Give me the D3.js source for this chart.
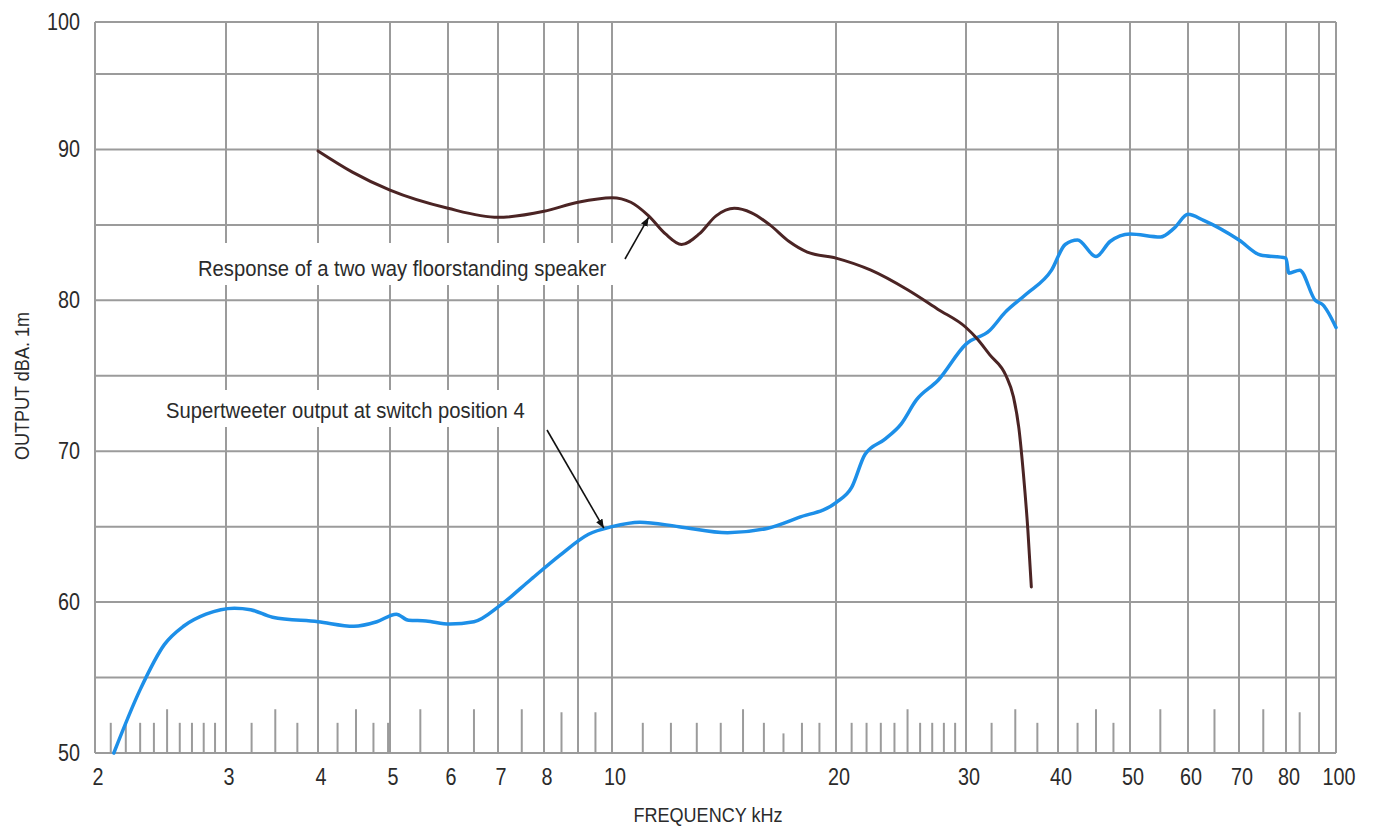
<!DOCTYPE html>
<html>
<head>
<meta charset="utf-8">
<script src="https://cdn.jsdelivr.net/npm/d3@7"></script>
<style>
    body { margin: 0; background: #fff; }
    svg { display: block; }
    text { font-family: "Liberation Sans Narrow", "Arial Narrow", "Liberation Sans", sans-serif; fill: #2b2b2b; }
</style>
</head>
<body>
<svg id="chart" width="1374" height="828"></svg>
<script>
// ---- data ----
// frequencies of the printed vertical grid lines (kHz)
const gridFreqs = [2, 3, 4, 5, 6, 7, 8, 9, 10, 20, 30, 40, 50, 60, 70, 80, 90, 100];
const freqLabels = [2, 3, 4, 5, 6, 7, 8, 10, 20, 30, 40, 50, 60, 70, 80, 100];
const gridLevels = [55, 60, 65, 70, 75, 80, 85, 90, 95];
const levelLabels = [50, 60, 70, 80, 90, 100];

// Response of a two way floorstanding speaker
const speakerFreq = [4, 4.45, 5, 6, 7, 8, 9, 10, 10.6, 11.2, 11.8, 12.4, 13.1, 13.8, 14.6, 15.4, 16.3, 17.3, 18.3, 20, 22.3, 25, 27.5, 30, 31, 32.3, 34, 34.8, 35.4, 35.9, 36.4, 36.8];
const speakerDb   = [89.9, 88.5, 87.3, 86.1, 85.5, 85.9, 86.5, 86.8, 86.5, 85.6, 84.4, 83.7, 84.4, 85.6, 86.1, 85.8, 85.0, 83.9, 83.2, 82.8, 82.0, 80.7, 79.4, 78.2, 77.5, 76.4, 75.0, 73.6, 71.5, 68.5, 64.8, 61.0];

// Supertweeter output at switch position 4
const tweeterFreq = [2.12, 2.3, 2.48, 2.63, 2.82, 3.08, 3.24, 3.47, 4.0, 4.47, 4.8, 5.1, 5.3, 5.6, 6.03, 6.5, 7.05, 7.7, 8.45, 9.3, 10, 10.9, 12.3, 14.3, 16.2, 17.8, 20, 21, 21.9, 23.3, 24.5, 25.7, 27.5, 30, 32.3, 33.9, 36.2, 39.2, 40.9, 42.5, 45, 47, 50, 55, 57.5, 60, 62.9, 70, 74.4, 80, 80.8, 84, 88.8, 92.2, 100];
const tweeterDb   = [50.0, 54.2, 57.2, 58.4, 59.2, 59.6, 59.5, 59.0, 58.7, 58.4, 58.7, 59.2, 58.8, 58.75, 58.55, 58.7, 59.8, 61.5, 63.1, 64.5, 65.0, 65.3, 65.0, 64.6, 64.9, 65.6, 66.6, 67.6, 69.8, 70.8, 71.8, 73.4, 74.7, 77.1, 78.0, 79.2, 80.4, 82.0, 83.7, 84.0, 82.9, 83.9, 84.4, 84.2, 84.8, 85.7, 85.3, 84.0, 83.0, 82.8, 81.8, 82.0, 80.0, 79.7, 78.2];

// short marker strokes along the bottom of the chart
const markerFreq = [2.1, 2.2, 2.3, 2.4, 2.5, 2.6, 2.7, 2.8, 2.9, 3.25, 3.5, 3.75, 4.25, 4.5, 4.75, 4.97, 5.5, 6.5, 7.5, 8.5, 9.5,
    11, 12, 13, 14, 15, 16, 17, 18, 19, 21, 22, 23, 24, 25, 26, 27, 28, 29, 32.5, 35, 37.5, 42.5, 45, 47.5, 50, 55, 65, 75, 84];
const markerDb   = [52.0, 52.0, 52.0, 52.0, 52.9, 52.0, 52.0, 52.0, 52.0, 52.0, 52.9, 52.0, 52.0, 52.9, 52.0, 52.0, 52.9, 52.9, 52.9, 52.7, 52.7,
    52.0, 52.0, 52.0, 52.0, 52.9, 52.0, 51.3, 52.0, 52.0, 52.0, 52.0, 52.0, 52.0, 52.9, 52.0, 52.0, 52.0, 52.0, 52.0, 52.9, 52.0, 52.0, 52.9, 52.0, 52.0, 52.9, 52.9, 52.9, 52.7];

const annotations = [
    { text: "Response of a two way floorstanding speaker", freq: 11.2, db: 85.5, tx: 198, ty: 276, ax: 625, ay: 259, box: [190, 243, 432, 42] },
    { text: "Supertweeter output at switch position 4", freq: 9.75, db: 64.9, tx: 166, ty: 418, ax: 547, ay: 430, box: [158, 390, 382, 37] }
];

///////////////////////////////////////////////////////

const svg = d3.select("#chart");

// the printed frequency scale is not a clean log scale, so map piecewise on the grid lines
const x = d3.scaleLog()
    .domain(gridFreqs)
    .range([95, 226, 318, 390, 448, 498, 544, 578, 612, 836, 966, 1058, 1130, 1188, 1239, 1286, 1319, 1336]);

// top row of the grid is shorter than the others
const y = d3.scaleLinear()
    .domain([50, 95, 100])
    .range([753, 74, 22]);

const gridColor = "#9b9b9b";
const narrow = 0.86; // squeeze for the condensed tick lettering

const grid = svg.append("g").attr("class", "grid");

grid.selectAll(".vgrid")
    .data(gridFreqs)
    .enter()
    .append("line")
    .attr("class", "vgrid")
    .attr("x1", d => x(d)).attr("x2", d => x(d))
    .attr("y1", y(100)).attr("y2", y(50))
    .attr("stroke", gridColor)
    .attr("stroke-width", 2);

grid.selectAll(".hgrid")
    .data([50, ...gridLevels, 100])
    .enter()
    .append("line")
    .attr("class", "hgrid")
    .attr("x1", x(2)).attr("x2", x(100))
    .attr("y1", d => y(d)).attr("y2", d => y(d))
    .attr("stroke", gridColor)
    .attr("stroke-width", 2);

// marker strokes
grid.selectAll(".marker")
    .data(markerFreq.map((f, i) => ({ f, db: markerDb[i] })))
    .enter()
    .append("line")
    .attr("class", "marker")
    .attr("x1", d => x(d.f)).attr("x2", d => x(d.f))
    .attr("y1", y(50)).attr("y2", d => y(d.db))
    .attr("stroke", gridColor)
    .attr("stroke-width", 2);

// white boxes behind the annotation text
svg.selectAll(".note-bg")
    .data(annotations)
    .enter()
    .append("rect")
    .attr("class", "note-bg")
    .attr("x", d => d.box[0]).attr("y", d => d.box[1])
    .attr("width", d => d.box[2]).attr("height", d => d.box[3])
    .attr("fill", "#fff");

// tick labels
svg.selectAll(".xlabel")
    .data(freqLabels)
    .enter()
    .append("text")
    .attr("class", "xlabel")
    .attr("transform", d => `translate(${x(d) + 3},785) scale(${narrow},1)`)
    .attr("text-anchor", "middle")
    .style("font-size", "23px")
    .text(d => d);

svg.selectAll(".ylabel")
    .data(levelLabels)
    .enter()
    .append("text")
    .attr("class", "ylabel")
    .attr("transform", d => `translate(80,${y(d) + 8}) scale(${narrow},1)`)
    .attr("text-anchor", "end")
    .style("font-size", "23px")
    .text(d => d);

svg.append("text")
    .attr("transform", `translate(708,822) scale(${narrow},1)`)
    .attr("text-anchor", "middle")
    .style("font-size", "21px")
    .text("FREQUENCY kHz");

svg.append("text")
    .attr("transform", `translate(29,386) rotate(-90) scale(${narrow},1)`)
    .attr("text-anchor", "middle")
    .style("font-size", "21px")
    .text("OUTPUT dBA. 1m");

// curves
const line = d3.line()
    .x(d => x(d.f))
    .y(d => y(d.db))
    .curve(d3.curveMonotoneX);

svg.append("path")
    .datum(tweeterFreq.map((f, i) => ({ f, db: tweeterDb[i] })))
    .attr("d", line)
    .attr("fill", "none")
    .attr("stroke", "#1d8fe8")
    .attr("stroke-width", 3.5)
    .attr("stroke-linecap", "round");

svg.append("path")
    .datum(speakerFreq.map((f, i) => ({ f, db: speakerDb[i] })))
    .attr("d", line)
    .attr("fill", "none")
    .attr("stroke", "#4b2424")
    .attr("stroke-width", 3)
    .attr("stroke-linecap", "round");

// annotations with arrows
svg.append("defs").append("marker")
    .attr("id", "arrow")
    .attr("viewBox", "0 0 10 10")
    .attr("refX", 10).attr("refY", 5)
    .attr("markerWidth", 9).attr("markerHeight", 9)
    .attr("markerUnits", "userSpaceOnUse")
    .attr("orient", "auto")
    .append("path")
    .attr("d", "M0,1L10,5L0,9Z")
    .attr("fill", "#111");

svg.selectAll(".note-arrow")
    .data(annotations)
    .enter()
    .append("line")
    .attr("class", "note-arrow")
    .attr("x1", d => d.ax).attr("y1", d => d.ay)
    .attr("x2", d => x(d.freq)).attr("y2", d => y(d.db))
    .attr("stroke", "#111")
    .attr("stroke-width", 1.6)
    .attr("marker-end", "url(#arrow)");

svg.selectAll(".note")
    .data(annotations)
    .enter()
    .append("text")
    .attr("class", "note")
    .attr("transform", d => `translate(${d.tx},${d.ty}) scale(0.92,1)`)
    .style("font-size", "22px")
    .text(d => d.text);
</script>
</body>
</html>
